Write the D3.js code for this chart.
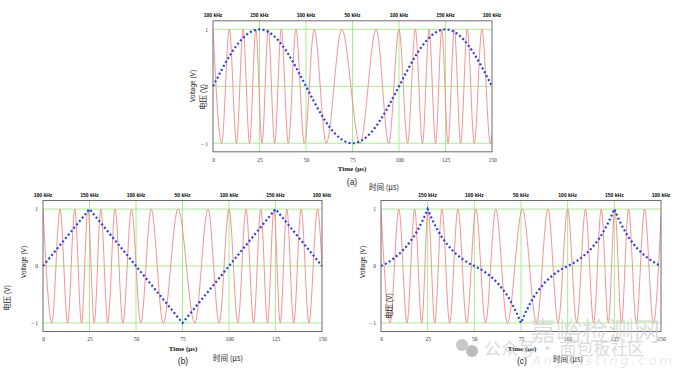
<!DOCTYPE html>
<meta charset="utf-8">
<style>
  body { margin: 0; background: #fff; }
  .tick text { font-family: "Liberation Serif", "DejaVu Serif", serif; font-size: 5.5px; fill: #333; }
</style>
<div id="fm"></div>
<script src="https://d3js.org/d3.v7.min.js"></script>
<script>
    // shared axes
    var timeTicks = [0, 25, 50, 75, 100, 125, 150];
    var freqLabels = ["100 kHz", "150 kHz", "100 kHz", "50 kHz", "100 kHz", "150 kHz", "100 kHz"];
    var voltTicks = [1, 0, -1];

    // (a) sine modulation, sampled every 5 us
    var modA = [0, .31, .59, .81, .95, 1, .95, .81, .59, .31, 0, -.31, -.59, -.81, -.95, -1,
                -.95, -.81, -.59, -.31, 0, .31, .59, .81, .95, 1, .95, .81, .59, .31, 0];
    // carrier peaks / troughs (us), alternating +1 / -1
    var redA = [0, 4.65, 8.79, 12.62, 16.21, 19.66, 23.03, 26.36, 29.72, 33.15, 36.71, 40.48, 44.56, 49.12,
                54.40, 60.89, 69.23, 79.03, 87.75, 94.52, 100, 104.65, 108.79, 112.62, 116.21, 119.66,
                123.03, 126.36, 129.72, 133.15, 136.71, 140.48, 144.56, 149.12];
    var redAEnd = -0.84;

    // (b) triangle modulation
    var modBTime = [0, 25, 75, 125, 150];
    var modB = [0, 1, -1, 1, 0];
    var redB = [0, 4.77, 9.16, 13.25, 17.08, 20.71, 24.16, 27.54, 31.08, 34.81, 38.76, 42.99, 47.56,
                52.57, 58.17, 64.64, 72.61, 81.62, 88.73, 94.72, 100, 104.77, 109.16, 113.25, 117.08,
                120.71, 124.16, 127.54, 131.08, 134.81, 138.76, 142.99, 147.56];
    var redBEnd = 0;

    // (c) exponential-shaped modulation, sampled every 2.5 us
    var modC = [0, .04, .09, .15, .22, .30, .40, .51, .65, .81, 1,
                .81, .65, .51, .40, .30, .22, .15, .09, .04, 0,
                -.04, -.09, -.15, -.22, -.30, -.40, -.51, -.65, -.81, -1,
                -.81, -.65, -.51, -.40, -.30, -.22, -.15, -.09, -.04, 0,
                .04, .09, .15, .22, .30, .40, .51, .65, .81, 1,
                .81, .65, .51, .40, .30, .22, .15, .09, .04, 0];
    var redC = [0, 4.89, 9.55, 13.93, 18.02, 21.80, 25.28, 28.81, 32.62, 36.77, 41.20, 45.90, 50.83,
                55.99, 61.51, 67.70, 75.75, 83.38, 89.44, 94.88, 100, 104.89, 109.55, 113.93, 118.02,
                121.80, 125.28, 128.81, 132.62, 136.77, 141.20, 145.90];
    var redCEnd = 0.87;

    var svg = d3.select("#fm").append("svg")
        .attr("width", 680)
        .attr("height", 376);

    var panels = [
        {id: "a", left: 213, right: 492, top: 20.8, bottom: 151.8,
         modT: d3.range(0, 151, 5), mod: modA, curve: d3.curveNatural,
         red: redA, redEnd: redAEnd, freq: freqLabels,
         timeLab: [352, 171], tag: [352, 185], cnTime: [369, 190],
         volt: [193, 86], cnVolt: [203, 97]},
        {id: "b", left: 43, right: 322, top: 200.5, bottom: 331.5,
         modT: modBTime, mod: modB, curve: d3.curveLinear,
         red: redB, redEnd: redBEnd, freq: freqLabels,
         timeLab: [183, 351], tag: [183, 364], cnTime: [213, 361],
         volt: [24, 262], cnVolt: [7, 298]},
        {id: "c", left: 381, right: 661, top: 200.5, bottom: 331.5,
         modT: d3.range(0, 150.1, 2.5), mod: modC, curve: d3.curveLinear,
         red: redC, redEnd: redCEnd, freq: [""].concat(freqLabels.slice(1)),
         timeLab: [522, 351], tag: [522, 364], cnTime: [553, 362],
         volt: [363, 262], cnVolt: [389, 306]}
    ];

    panels.forEach(function(p) {
        var x = d3.scaleLinear().domain([0, 150]).range([p.left, p.right]);
        var y = d3.scaleLinear().domain([-1.15, 1.15]).range([p.bottom, p.top]);
        var g = svg.append("g");

        g.append("clipPath").attr("id", "clip-" + p.id)
            .append("rect")
            .attr("x", p.left).attr("y", p.top)
            .attr("width", p.right - p.left).attr("height", p.bottom - p.top);

        // green grid
        g.selectAll(".hg").data(voltTicks).enter().append("line")
            .attr("x1", p.left).attr("x2", p.right)
            .attr("y1", function(d) { return y(d); }).attr("y2", function(d) { return y(d); })
            .attr("stroke", "#a6ef8e").attr("stroke-width", 1);
        g.selectAll(".vg").data(timeTicks.slice(1, -1)).enter().append("line")
            .attr("y1", p.top).attr("y2", p.bottom)
            .attr("x1", function(d) { return x(d); }).attr("x2", function(d) { return x(d); })
            .attr("stroke", "#a6ef8e").attr("stroke-width", 1);

        // FM carrier through its peaks and troughs
        var redPts = p.red.map(function(t, i) { return [t, i % 2 ? -1 : 1]; });
        redPts.push([150, p.redEnd]);
        g.append("path")
            .datum(redPts)
            .attr("clip-path", "url(#clip-" + p.id + ")")
            .attr("fill", "none")
            .attr("stroke", "#f28080")
            .attr("stroke-width", 0.85)
            .attr("d", d3.line()
                .curve(d3.curveMonotoneX)
                .x(function(d) { return x(d[0]); })
                .y(function(d) { return y(d[1]); }));

        // modulating signal, dotted blue
        g.append("path")
            .datum(p.mod.map(function(v, i) { return [p.modT[i], v]; }))
            .attr("fill", "none")
            .attr("stroke", "#2443e6")
            .attr("stroke-width", 2.2)
            .attr("stroke-dasharray", "2,2.4")
            .attr("d", d3.line()
                .curve(p.curve)
                .x(function(d) { return x(d[0]); })
                .y(function(d) { return y(d[1]); }));

        // frame
        g.append("rect")
            .attr("x", p.left).attr("y", p.top)
            .attr("width", p.right - p.left).attr("height", p.bottom - p.top)
            .attr("fill", "none").attr("stroke", "#6d6d6d").attr("stroke-width", 1);

        // axes
        g.append("g")
            .attr("transform", "translate(0," + p.bottom + ")")
            .call(d3.axisBottom(x).tickValues(timeTicks).tickSize(0).tickPadding(6))
            .call(function(a) { a.select(".domain").remove(); });
        g.append("g")
            .attr("transform", "translate(" + p.left + ",0)")
            .call(d3.axisLeft(y).tickValues(voltTicks).tickSize(0).tickPadding(5)
                .tickFormat(function(d) { return d === -1 ? "\u2013 1" : d; }))
            .call(function(a) { a.select(".domain").remove(); });

        // frequency labels on top
        g.selectAll(".fq").data(timeTicks).enter().append("text")
            .attr("x", function(d) { return x(d); })
            .attr("y", p.top - 4)
            .attr("text-anchor", "middle")
            .style("font-family", "Liberation Sans, Arial, sans-serif")
            .style("font-weight", "bold")
            .style("font-size", "5px")
            .text(function(d, i) { return p.freq[i]; });

        // titles
        g.append("text")
            .attr("x", p.timeLab[0]).attr("y", p.timeLab[1])
            .attr("text-anchor", "middle")
            .style("font-family", "Liberation Serif, serif")
            .style("font-weight", "bold")
            .style("font-size", "7px").style("fill", "#222")
            .text("Time (\u03bcs)");
        g.append("text")
            .attr("x", p.tag[0]).attr("y", p.tag[1])
            .attr("text-anchor", "middle")
            .style("font-family", "Liberation Sans, Arial, sans-serif")
            .style("font-size", "8.5px").style("fill", "#222")
            .text("(" + p.id + ")");
        g.append("text")
            .attr("x", p.cnTime[0]).attr("y", p.cnTime[1])
            .style("font-family", "Noto Sans CJK SC, sans-serif")
            .style("font-size", "7.5px").style("fill", "#222")
            .text("\u65f6\u95f4 (\u03bcs)");
        g.append("text")
            .attr("transform", "translate(" + p.volt[0] + "," + p.volt[1] + ") rotate(-90)")
            .attr("text-anchor", "middle")
            .attr("dy", "0.35em")
            .style("font-family", "Liberation Sans, Arial, sans-serif")
            .style("font-size", "6.5px").style("fill", "#222")
            .text("Voltage (V)");
        g.append("text")
            .attr("transform", "translate(" + p.cnVolt[0] + "," + p.cnVolt[1] + ") rotate(-90)")
            .attr("text-anchor", "middle")
            .attr("dy", "0.35em")
            .style("font-family", "Noto Sans CJK SC, sans-serif")
            .style("font-size", "7.5px").style("fill", "#222")
            .text("\u7535\u538b (V)");
    });

    // watermark (faint, over the lower right panel as in the source)
    var wm = svg.append("g").style("fill", "#d0d0d0");
    wm.append("text").attr("x", 530).attr("y", 341)
        .style("font-family", "Noto Sans CJK SC, sans-serif").style("font-size", "26px")
        .style("fill-opacity", 0.7).text("\u5609\u5cea\u68c0\u6d4b\u7f51");
    wm.append("circle").attr("cx", 462).attr("cy", 345).attr("r", 6).style("fill", "#c8c8c8");
    wm.append("circle").attr("cx", 472).attr("cy", 351).attr("r", 6).style("fill", "#bcbcbc");
    wm.append("text").attr("x", 484).attr("y", 355)
        .style("font-family", "Noto Sans CJK SC, sans-serif").style("font-size", "17px")
        .style("fill-opacity", 0.75).text("\u516c\u4f17\u53f7 \u00b7 \u9762\u5305\u677f\u793e\u533a");
    wm.append("text").attr("x", 532).attr("y", 365)
        .attr("textLength", 140).attr("lengthAdjust", "spacing")
        .style("font-family", "DejaVu Sans, sans-serif").style("font-style", "italic")
        .style("font-size", "13px").style("fill-opacity", 0.45).text("AnyTesting.com");
</script>
